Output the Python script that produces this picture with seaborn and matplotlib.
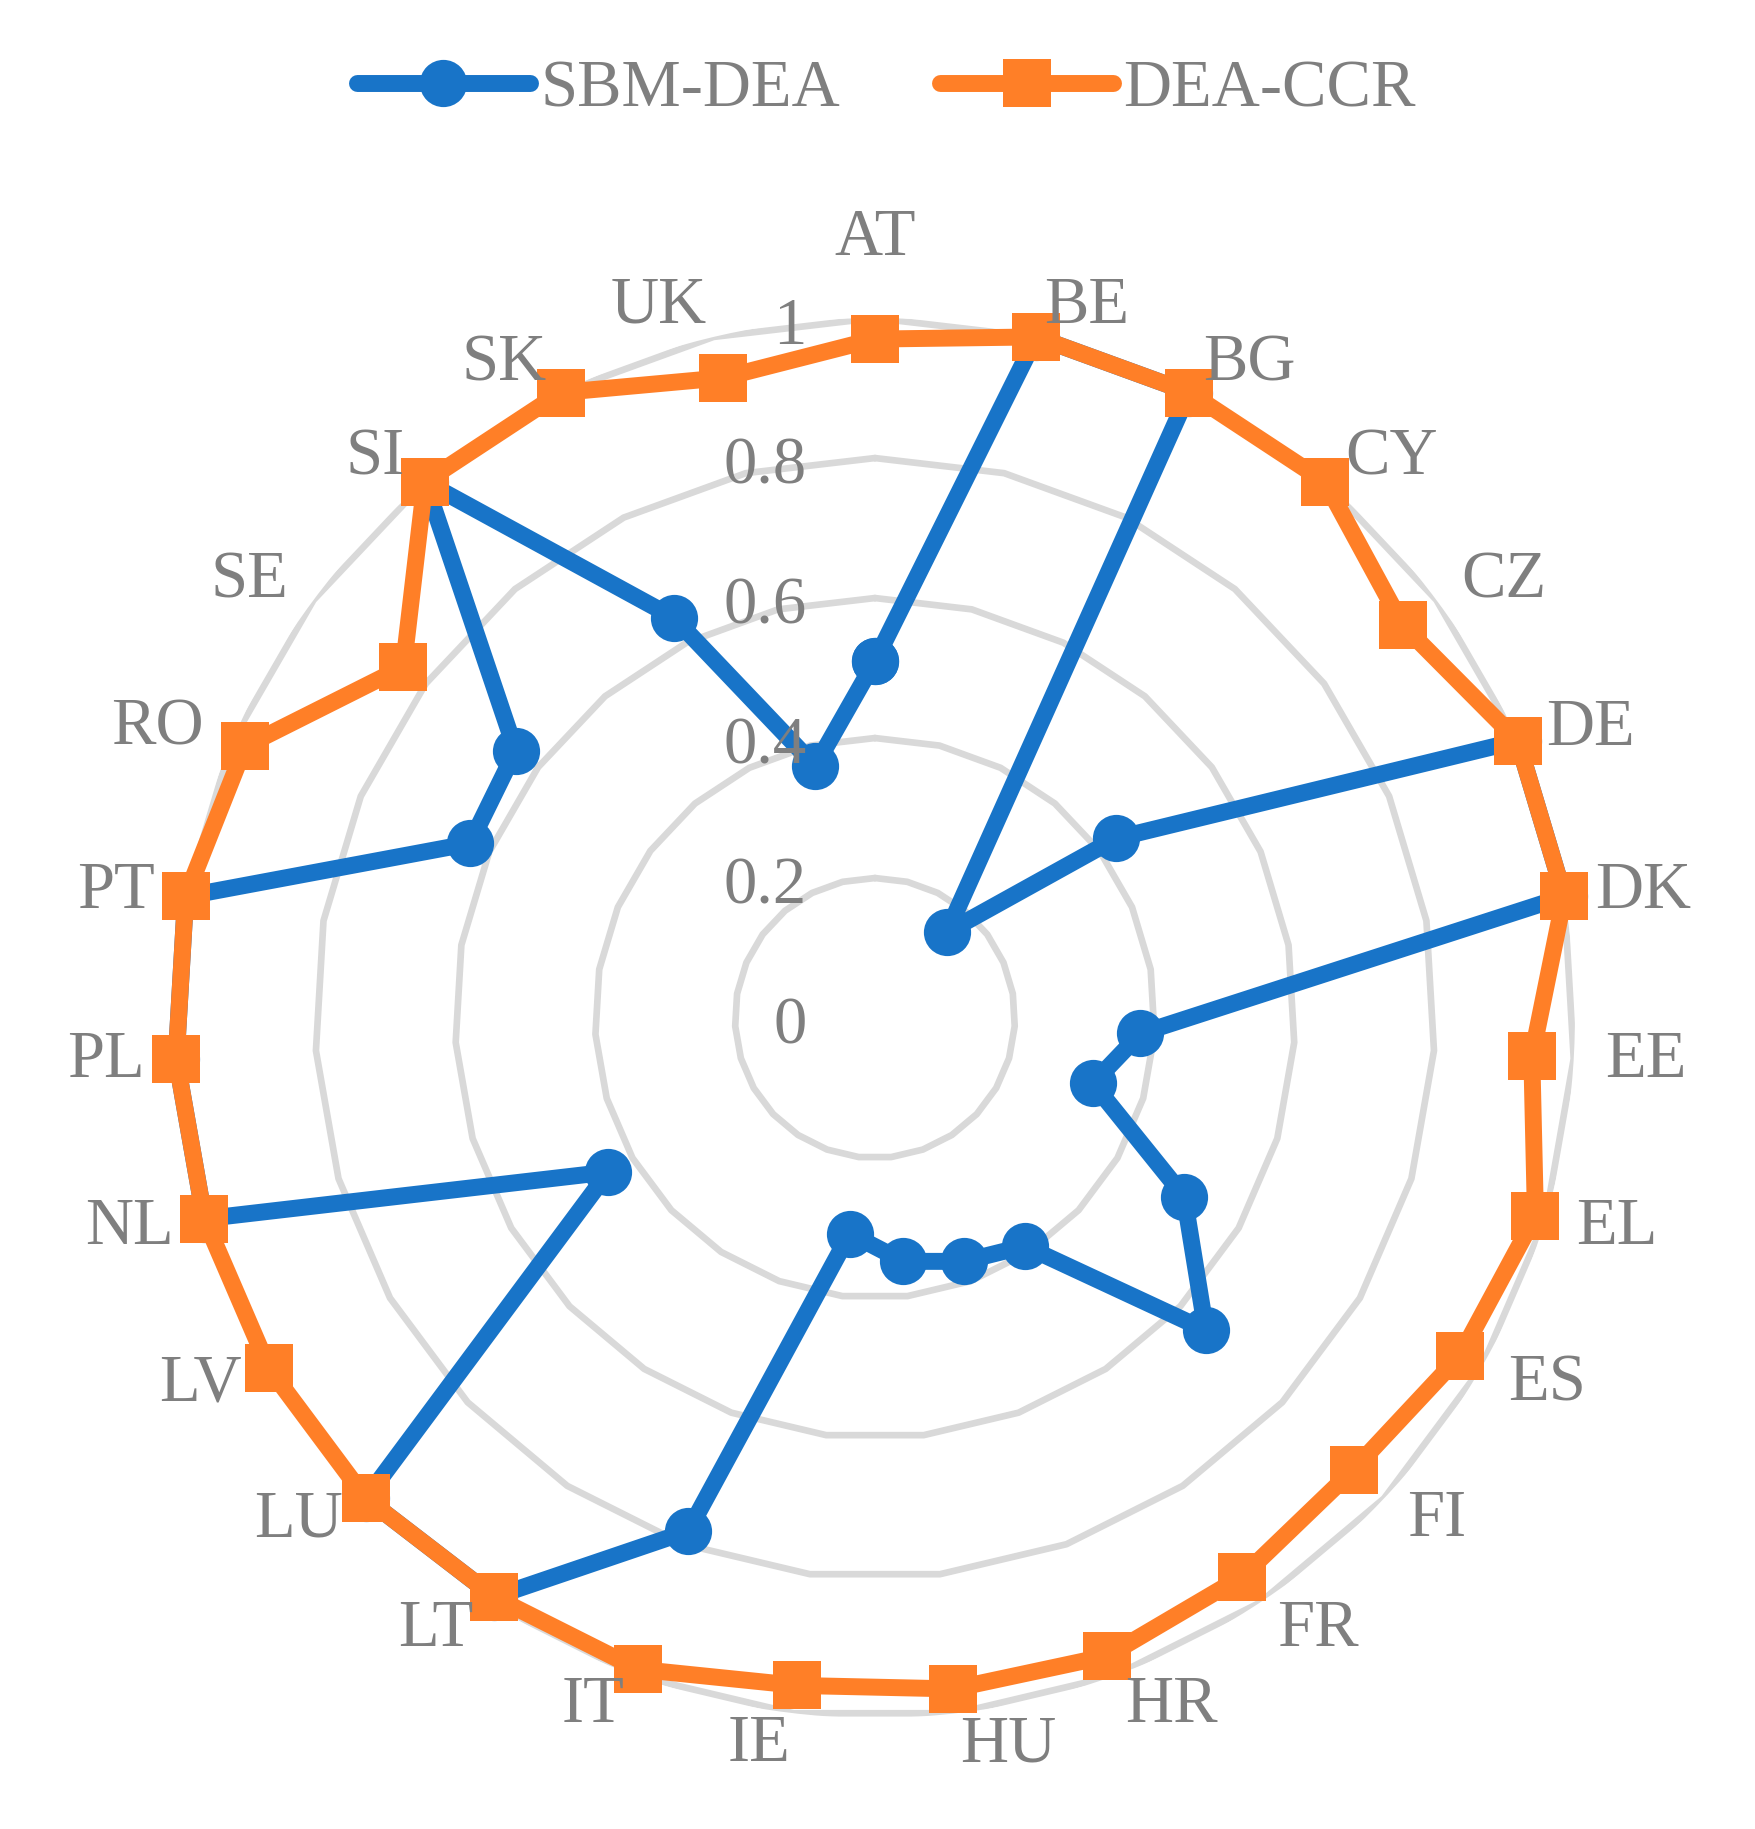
import numpy as np
import pandas as pd
import matplotlib
matplotlib.use("Agg")
import matplotlib.pyplot as plt
import matplotlib.transforms as mtransforms
import seaborn as sns

# ---- data ----
countries = ["AT", "BE", "BG", "CY", "CZ", "DE", "DK", "EE", "EL", "ES",
             "FI", "FR", "HR", "HU", "IE", "IT", "LT", "LU", "LV", "NL",
             "PL", "PT", "RO", "SE", "SI", "SK", "UK"]
sbm_dea = [0.51, 1.00, 1.00, 0.16, 0.43, 1.00, 1.00, 0.38, 0.325, 0.51,
           0.65, 0.39, 0.37, 0.35, 0.31, 0.78, 0.99, 1.00, 0.44, 1.00,
           1.00, 1.00, 0.63, 0.64, 1.00, 0.64, 0.37]
dea_ccr = [0.97, 1.00, 1.00, 1.00, 0.94, 1.00, 1.00, 0.94, 0.985, 0.965,
           0.94, 0.955, 0.97, 0.965, 0.96, 0.99, 0.99, 1.00, 1.00, 1.00,
           1.00, 1.00, 0.98, 0.84, 1.00, 1.00, 0.94]
series_names = ["SBM-DEA", "DEA-CCR"]
ring_levels = [0.2, 0.4, 0.6, 0.8, 1.0]
tick_values = [0, 0.2, 0.4, 0.6, 0.8, 1.0]
tick_labels = ["0", "0.2", "0.4", "0.6", "0.8", "1"]

BLUE = "#1874C8"
ORANGE = "#FF7F27"
GRID = "#D9D9D9"
TEXT = "#7F7F7F"
FS = 48

sns.set_theme(style="white")
plt.rcParams["font.family"] = ["Liberation Serif", "DejaVu Serif"]

n = len(countries)
theta = np.linspace(0, 2 * np.pi, n, endpoint=False)
theta_closed = np.append(theta, 2 * np.pi)

df = pd.concat([
    pd.DataFrame({"theta": theta_closed, "score": sbm_dea + sbm_dea[:1], "method": series_names[0]}),
    pd.DataFrame({"theta": theta_closed, "score": dea_ccr + dea_ccr[:1], "method": series_names[1]}),
], ignore_index=True)

fig = plt.figure(figsize=(17.55, 18.29), dpi=100)
ax = fig.add_axes([0.0997, 0.0607, 0.7977, 0.7654], projection="polar")
ax.set_theta_zero_location("N")
ax.set_theta_direction(-1)

# polygon rings like excel's radar grid
for r in ring_levels:
    ax.plot(theta_closed, [r] * (n + 1), color=GRID, lw=4.8, zorder=1,
            solid_joinstyle="round")

sns.lineplot(data=df, x="theta", y="score", hue="method", style="method",
             palette={series_names[0]: BLUE, series_names[1]: ORANGE},
             markers={series_names[0]: "o", series_names[1]: "s"},
             dashes=False, sort=False, estimator=None, legend=False,
             linewidth=12.2, markersize=34, markeredgewidth=0, ax=ax, zorder=3)

data_lines = ax.lines[-2:]
for ln in data_lines:
    ln.set_clip_on(False)
    ln.set_solid_joinstyle("round")
    ln.set_solid_capstyle("round")

ax.set_ylim(0, 1.0)
ax.set_xticks([])
ax.set_yticks([])
ax.grid(False)
ax.spines["polar"].set_visible(False)
ax.set_xlabel("")
ax.set_ylabel("")

# category labels round the outside
for th, name in zip(theta, countries):
    s, c = np.sin(th), np.cos(th)
    if abs(s) < 0.05:
        ax.text(th, 1.09 if c > 0 else 1.045, name, ha="center",
                va="baseline" if c > 0 else "top", fontsize=FS, color=TEXT)
    else:
        ax.text(th, 1.045, name, ha="left" if s > 0 else "right", va="center",
                fontsize=FS, color=TEXT)

# value axis labels, just left of the vertical axis
tick_tr = mtransforms.offset_copy(ax.transData, fig=fig, x=-68, y=-9, units="dots")
for v, lab in zip(tick_values, tick_labels):
    ax.text(0, v, lab, transform=tick_tr, ha="right", va="center",
            fontsize=FS, color=TEXT)

fig.legend(data_lines, series_names, loc="center", bbox_to_anchor=(0.505, 0.951),
           ncol=2, frameon=False, fontsize=FS, handlelength=2.6,
           handletextpad=0.15, columnspacing=1.5, labelcolor=TEXT)

fig.savefig("out.png", dpi=100, facecolor="white")
